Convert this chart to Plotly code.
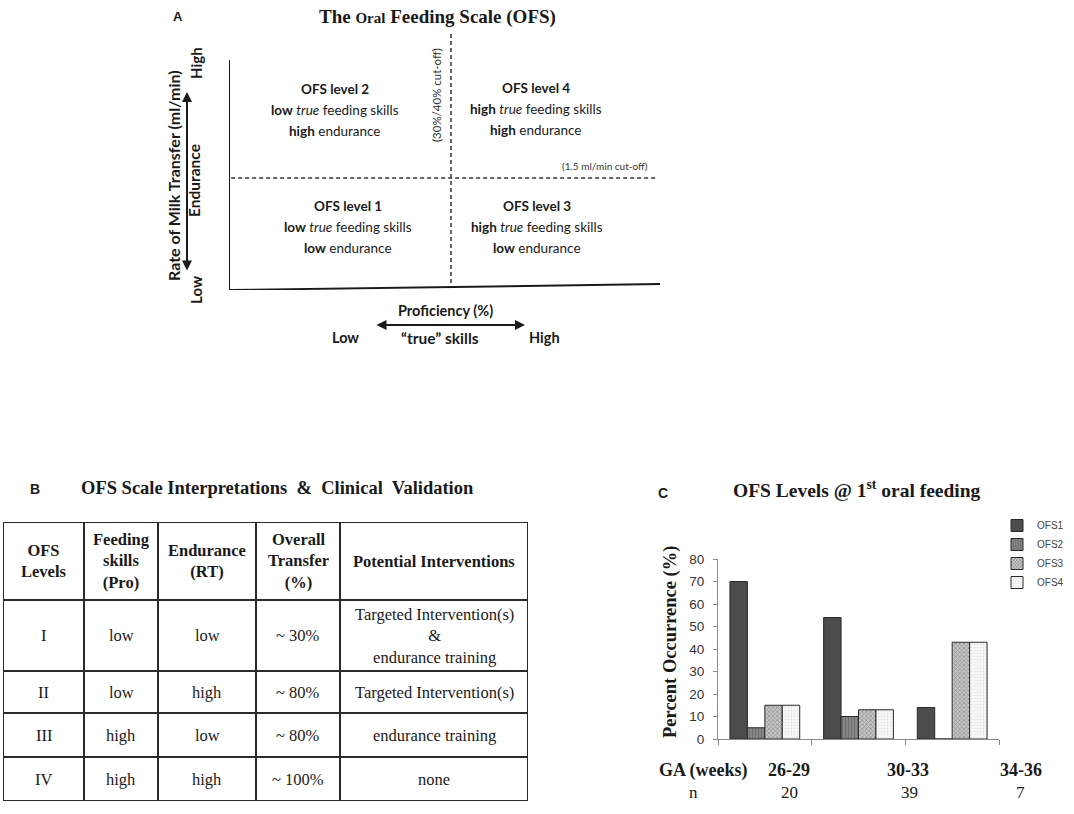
import plotly.graph_objects as go

# ---------------- data ----------------
# Panel C: OFS levels at 1st oral feeding (percent occurrence)
ga_groups = ["26-29", "30-33", "34-36"]
n_counts = [20, 39, 7]
ofs_names = ["OFS1", "OFS2", "OFS3", "OFS4"]
ofs1 = [70, 54, 14]
ofs2 = [5, 10, 0]
ofs3 = [15, 13, 43]
ofs4 = [15, 13, 43]
y_ticks = [0, 10, 20, 30, 40, 50, 60, 70, 80]

# Panel B: table
table_header = ["OFS<br>Levels", "Feeding<br>skills<br>(Pro)", "Endurance<br>(RT)",
                "Overall<br>Transfer<br>(%)", "Potential Interventions"]
col_levels = ["I", "II", "III", "IV"]
col_skills = ["low", "low", "high", "high"]
col_endurance = ["low", "high", "low", "high"]
col_transfer = ["~ 30%", "~ 80%", "~ 80%", "~ 100%"]
col_interventions = ["Targeted Intervention(s)<br>&<br>endurance training",
                     "Targeted Intervention(s)", "endurance training", "none"]

# Panel A: quadrants
quad_levels = ["OFS level 1", "OFS level 2", "OFS level 3", "OFS level 4"]
quad_skills = ["low", "low", "high", "high"]
quad_endurance = ["low", "high", "low", "high"]

# ---------------- helpers / style ----------------
W, H = 1074, 814
def px(x):
    return x / W
def py(y):
    return 1 - y / H

SERIF = "Liberation Serif"
ARIAL = "Liberation Sans"
CAL = "Lato"
INK = "#1a1a1a"

fig = go.Figure()
annotations = []
shapes = []

def ann(text, x, y, size, family, color=INK, angle=0, xanchor="center", **kw):
    d = dict(text=text, x=x, y=y, xref="paper", yref="paper", showarrow=False,
             font=dict(size=size, family=family, color=color), textangle=angle,
             xanchor=xanchor, yanchor="middle")
    d.update(kw)
    annotations.append(d)

# ---------------- Panel C: bar chart ----------------
bar_styles = [
    dict(color="#4c4c4c", pattern=dict(shape="")),
    dict(color="#747474", pattern=dict(shape="|", fgcolor="#5a5a5a", bgcolor="#858585", size=3, solidity=0.35)),
    dict(color="#a0a0a0", pattern=dict(shape="x", fgcolor="#5e5e5e", bgcolor="#c6c6c6", size=3, solidity=0.45)),
    dict(color="#f2f2f2", pattern=dict(shape=".", fgcolor="#c8c8c8", bgcolor="#fafafa", size=3, solidity=0.3)),
]
for name, vals, st in zip(ofs_names, [ofs1, ofs2, ofs3, ofs4], bar_styles):
    fig.add_trace(go.Bar(
        x=ga_groups, y=vals, name=name,
        marker=dict(color=st["color"], pattern=st["pattern"],
                    line=dict(color="#2a2a2a", width=1)),
        xaxis="x", yaxis="y", hoverinfo="skip",
    ))

# ---------------- Panel A: diagram (conceptual axes 0..1) ----------------
prof_cut = 0.515   # proficiency cut-off position
rate_cut = 0.4375  # rate cut-off position
shapes += [
    dict(type="line", xref="x3", yref="y3", x0=0, y0=0, x1=0, y1=0.898,
         line=dict(color=INK, width=2)),
    dict(type="line", xref="x3", yref="y3", x0=0, y0=0, x1=1.0, y1=0.023,
         line=dict(color=INK, width=2)),
    dict(type="line", xref="x3", yref="y3", x0=0.005, y0=rate_cut, x1=0.993, y1=rate_cut,
         line=dict(color="#333", width=1.5, dash="4px,3px")),
    dict(type="line", xref="x3", yref="y3", x0=prof_cut, y0=0.027, x1=prof_cut, y1=1.0,
         line=dict(color="#333", width=1.5, dash="4px,3px")),
]

ann("<b>A</b>", px(178), py(16), 13, ARIAL)
ann("<b>The <span style='font-size:15px'>Oral</span> Feeding Scale (OFS)</b>",
    px(437), py(17), 19, SERIF)

quad_cx = [348, 335, 537, 536]
quad_top = [206, 89, 206, 88]
for lvl, sk, en, cx, ty in zip(quad_levels, quad_skills, quad_endurance, quad_cx, quad_top):
    ann("<b>%s</b>" % lvl, px(cx), py(ty), 13.5, CAL)
    ann("<b>%s</b> <i>true</i> feeding skills" % sk, px(cx), py(ty + 21), 13.5, CAL)
    ann("<b>%s</b> endurance" % en, px(cx), py(ty + 42), 13.5, CAL)

ann("(30%/40% cut-off)", px(437), py(95), 11.5, CAL, color="#333", angle=-90)
ann("(1.5 ml/min cut-off)", px(605), py(166), 10, CAL, color="#333")

ann("<b>Rate of Milk Transfer (ml/min)</b>", px(173), py(176), 16, CAL, angle=-90)
ann("<b>High</b>", px(196), py(63), 15, CAL, angle=-90)
ann("<b>Endurance</b>", px(194), py(181), 15.5, CAL, angle=-90)
ann("<b>Low</b>", px(196), py(290), 15, CAL, angle=-90)
annotations.append(dict(text="", x=px(187), y=py(92), xref="paper", yref="paper",
                        showarrow=True, ax=0, ay=180, arrowside="end+start",
                        arrowhead=2, arrowsize=1, arrowwidth=2, arrowcolor=INK))

ann("<b>Proficiency (%)</b>", px(445), py(310), 14.5, CAL)
annotations.append(dict(text="", x=px(525), y=py(325), xref="paper", yref="paper",
                        showarrow=True, ax=-150, ay=0, arrowside="end+start",
                        arrowhead=2, arrowsize=1, arrowwidth=2, arrowcolor=INK))
ann("<b>Low</b>", px(345), py(338), 14.5, CAL)
ann("<b>\u201ctrue\u201d skills</b>", px(440), py(338), 15.5, CAL)
ann("<b>High</b>", px(544), py(338), 14.5, CAL)

# ---------------- Panel B: table (table axes in cell units) ----------------
ann("<b>B</b>", px(35), py(489), 14, ARIAL)
ann("<b>OFS Scale Interpretations  &amp;  Clinical  Validation</b>", px(277), py(488), 18.5, SERIF)

col_widths = [81, 74, 98, 84, 188]
row_heights = [78, 71, 42, 44, 44]
col_edges = [0]
for w_ in col_widths:
    col_edges.append(col_edges[-1] + w_)
row_edges = [0]
for h_ in row_heights:
    row_edges.append(row_edges[-1] + h_)
tbl_w, tbl_h = col_edges[-1], row_edges[-1]

for xe in col_edges:
    shapes.append(dict(type="line", xref="x4", yref="y4", x0=xe, x1=xe, y0=0, y1=tbl_h,
                       line=dict(color="#2a2a2a", width=2)))
for ye in row_edges:
    shapes.append(dict(type="line", xref="x4", yref="y4", x0=0, x1=tbl_w, y0=ye, y1=ye,
                       line=dict(color="#2a2a2a", width=2)))

body_cols = [col_levels, col_skills, col_endurance, col_transfer, col_interventions]
for ci, htxt in enumerate(table_header):
    cx = (col_edges[ci] + col_edges[ci + 1]) / 2
    annotations.append(dict(text="<b>%s</b>" % htxt, x=cx, y=row_heights[0] / 2,
                            xref="x4", yref="y4", showarrow=False,
                            font=dict(family=SERIF, size=16.5, color=INK)))
    for ri, val in enumerate(body_cols[ci]):
        cy = (row_edges[ri + 1] + row_edges[ri + 2]) / 2
        annotations.append(dict(text=val, x=cx, y=cy, xref="x4", yref="y4",
                                showarrow=False,
                                font=dict(family=SERIF, size=16.5, color=INK)))

# ---------------- Panel C texts ----------------
ann("<b>C</b>", px(663), py(493), 14, ARIAL)
ann("<b>OFS Levels @ 1<sup>st</sup> oral feeding</b>", px(857), py(489), 19.5, SERIF)
ann("<b>Percent Occurrence (%)</b>", px(670), py(642), 18.5, SERIF, angle=-90)
ann("<b>GA (weeks)</b>", px(703), py(770), 18, SERIF)
ann("n", px(693), py(792), 17, SERIF)
ga_label_x = [789, 908, 1021]
n_label_x = [789, 909, 1020]
for g, n, gx, nx in zip(ga_groups, n_counts, ga_label_x, n_label_x):
    ann("<b>%s</b>" % g, px(gx), py(770), 18, SERIF)
    ann(str(n), px(nx), py(792), 17, SERIF)

# ---------------- layout ----------------
fig.update_layout(
    width=W, height=H, autosize=False,
    margin=dict(l=0, r=0, t=0, b=0, pad=0),
    paper_bgcolor="white", plot_bgcolor="rgba(0,0,0,0)",
    barmode="group", bargap=0.255, bargroupgap=0,
    showlegend=True,
    legend=dict(x=px(997), y=py(511), xanchor="left", yanchor="top",
                font=dict(family=ARIAL, size=10, color="#444"),
                bgcolor="rgba(0,0,0,0)", itemclick=False, itemdoubleclick=False),
    xaxis=dict(domain=[px(718), px(999)], anchor="y", type="category",
               range=[-0.5, 2.5], showticklabels=False, showline=True,
               linecolor="#8a8a8a", linewidth=1, ticks="outside", tickson="boundaries",
               ticklen=5, tickcolor="#8a8a8a", showgrid=False, zeroline=False,
               fixedrange=True, automargin=False),
    yaxis=dict(domain=[py(739), py(559)], anchor="x", range=[0, 80],
               tickvals=y_ticks, showline=True, linecolor="#8a8a8a", linewidth=1,
               ticks="outside", ticklen=4, tickcolor="#8a8a8a", ticklabelstandoff=6,
               tickfont=dict(family=ARIAL, size=13.5, color="#333"),
               showgrid=False, zeroline=False, fixedrange=True, automargin=False),
    xaxis3=dict(domain=[px(229), px(660)], anchor="y3", range=[0, 1], visible=False,
                fixedrange=True),
    yaxis3=dict(domain=[py(290), py(34)], anchor="x3", range=[0, 1], visible=False,
                fixedrange=True),
    xaxis4=dict(domain=[px(3), px(3 + tbl_w)], anchor="y4", range=[0, tbl_w],
                visible=False, fixedrange=True),
    yaxis4=dict(domain=[py(522 + tbl_h), py(522)], anchor="x4", range=[tbl_h, 0],
                visible=False, fixedrange=True),
    shapes=shapes,
    annotations=annotations,
)

fig.write_html(
    "out.html",
    config={"displayModeBar": False},
    post_script=(
        "document.documentElement.style.margin='0';"
        "document.documentElement.style.overflow='hidden';"
        "document.body.style.margin='0';document.body.style.overflow='hidden';"
        "var gd=document.getElementById('{plot_id}');"
        "gd.style.position='fixed';gd.style.top='0px';gd.style.left='0px';"
    ),
)
